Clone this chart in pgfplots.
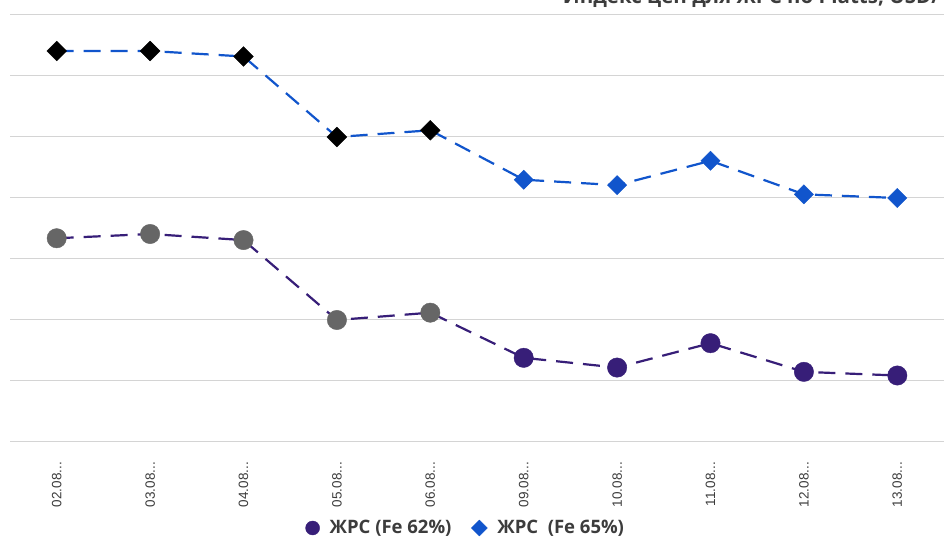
\documentclass[border=0pt]{standalone}
\usepackage{pgfplots}
\pgfplotsset{compat=1.18}
\usepackage{pgfplotstable}
\usepackage{fontspec}
\setmainfont{Liberation Sans}
\newfontfamily\os{Open Sans}
\definecolor{purp}{RGB}{55,30,120}
\definecolor{bluec}{RGB}{17,85,204}
\definecolor{graym}{RGB}{102,102,102}
\definecolor{gridc}{RGB}{212,212,212}
\definecolor{txt}{RGB}{60,60,60}
\newcommand\dd{.{}.{}.}
\pgfplotstableread{
x a b
0 183.4 214.1
1 184.1 214.1
2 183.1 213.2
3 170.0 200.0
4 171.2 201.1
5 163.8 193.0
6 162.2 192.1
7 166.2 196.1
8 161.5 190.6
9 160.9 190.0
}\data
\begin{document}
\begin{tikzpicture}[x=1bp,y=1bp]
\useasboundingbox (0,0) rectangle (946,538);
\fill[white] (0,0) rectangle (946,538);
\begin{axis}[
  at={(10bp,96bp)}, anchor=south west,
  width=934bp, height=427bp, scale only axis,
  xmin=-0.5, xmax=9.5, ymin=150, ymax=220,
  ytick={150,160,170,180,190,200,210,220}, yticklabels={},
  ymajorgrids, grid style={line width=1bp, color=gridc},
  axis line style={draw=none}, tick style={draw=none},
  xtick={0,1,2,3,4,5,6,7,8,9},
  xticklabels={02.08\dd,03.08\dd,04.08\dd,05.08\dd,06.08\dd,09.08\dd,10.08\dd,11.08\dd,12.08\dd,13.08\dd},
  xticklabel style={rotate=90, anchor=east, inner sep=0pt, font=\fontsize{13.5bp}{13.5bp}\selectfont, text=txt},
  xticklabel shift=20bp,
  clip=false,
  legend style={at={(0.488,-0.2014)}, anchor=center, draw=none, fill=none,
    legend columns=2, font=\os\bfseries\fontsize{18.5bp}{18.5bp}\selectfont, text=txt,
    /tikz/every odd column/.append style={column sep=8bp},
    /tikz/every even column/.append style={column sep=18bp}},
  legend cell align=left,
]
\addlegendimage{only marks, mark=*, mark size=7bp, color=purp}
\addlegendentry{ЖРС (Fe 62\%)}
\addlegendimage{only marks, mark=square*, mark size=5.6bp, mark options={rotate=45}, color=bluec}
\addlegendentry{ЖРС\ \ (Fe 65\%)}
\addplot[purp, line width=2.2bp, dash pattern=on 17bp off 10bp, forget plot] table[x=x,y=a]{\data};
\addplot[bluec, line width=2.2bp, dash pattern=on 17bp off 10bp, forget plot] table[x=x,y=b]{\data};
\addplot[only marks, mark=*, mark size=9.7bp, color=graym, forget plot, restrict x to domain=0:4] table[x=x,y=a]{\data};
\addplot[only marks, mark=*, mark size=9.7bp, color=purp, forget plot, restrict x to domain=5:9] table[x=x,y=a]{\data};
\addplot[only marks, mark=square*, mark size=7bp, mark options={rotate=45}, color=black, forget plot, restrict x to domain=0:4] table[x=x,y=b]{\data};
\addplot[only marks, mark=square*, mark size=6.8bp, mark options={rotate=45}, color=bluec, forget plot, restrict x to domain=5:9] table[x=x,y=b]{\data};
\end{axis}
\node[anchor=base east, inner sep=0pt, font=\os\bfseries\fontsize{20.5bp}{20.5bp}\selectfont, text=txt] at (940,534) {Индекс цен для ЖРС по Platts, USD/};
\end{tikzpicture}
\end{document}
